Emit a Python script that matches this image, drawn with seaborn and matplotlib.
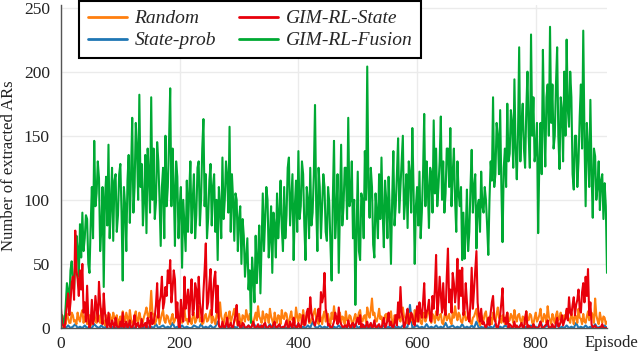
import numpy as np
import pandas as pd
import matplotlib
matplotlib.use("Agg")
import matplotlib.pyplot as plt
import seaborn as sns

# ---------------- data -------------
# GIM-RL-Fusion, Random and GIM-RL-State: one value every 2 episodes
fusion = [2, 10, 5, 3, 18, 35, 29, 20, 45, 52, 38, 30, 50, 72, 62, 40, 81, 55, 90, 60,
          70, 88, 85, 50, 43, 80, 110, 70, 146, 95, 105, 130, 117, 60, 78, 110, 32, 100, 118, 80,
          143, 70, 96, 125, 68, 115, 120, 75, 88, 120, 128, 90, 37, 110, 96, 60, 115, 135, 82, 120,
          164, 90, 110, 160, 140, 100, 182, 110, 128, 80, 100, 135, 74, 140, 120, 90, 180, 100, 140, 85,
          98, 145, 130, 100, 64, 110, 125, 70, 150, 95, 110, 145, 187, 95, 140, 110, 64, 130, 118, 70,
          95, 110, 47, 100, 80, 60, 115, 75, 105, 130, 74, 100, 120, 70, 88, 125, 130, 80, 100, 140,
          163, 95, 120, 70, 86, 115, 128, 80, 110, 120, 75, 100, 53, 110, 95, 70, 133, 85, 100, 130,
          118, 90, 157, 75, 120, 100, 68, 105, 100, 60, 85, 95, 50, 85, 72, 40, 55, 70, 30, 45,
          4, 55, 40, 20, 72, 35, 55, 80, 27, 65, 105, 60, 85, 110, 100, 55, 70, 95, 43, 90,
          80, 55, 105, 70, 90, 115, 78, 60, 110, 70, 88, 125, 133, 80, 100, 120, 53, 95, 115, 75,
          138, 85, 95, 130, 120, 80, 53, 110, 100, 70, 125, 80, 90, 120, 174, 95, 60, 125, 110, 70,
          95, 120, 110, 75, 68, 110, 98, 65, 37, 100, 146, 70, 90, 120, 43, 95, 143, 80, 94, 125,
          125, 85, 164, 95, 100, 130, 70, 100, 18, 75, 122, 60, 53, 105, 100, 70, 138, 100, 204, 110,
          86, 125, 110, 65, 55, 105, 90, 70, 120, 85, 133, 90, 63, 115, 100, 70, 118, 90, 50, 100,
          138, 80, 95, 120, 148, 90, 110, 130, 150, 85, 100, 120, 78, 130, 120, 90, 156, 110, 50, 95,
          110, 80, 122, 70, 90, 120, 167, 95, 130, 110, 78, 125, 120, 90, 162, 105, 140, 95, 110, 130,
          165, 100, 130, 90, 105, 140, 140, 110, 156, 95, 120, 140, 100, 75, 130, 105, 95, 110, 53, 90,
          54, 75, 108, 60, 75, 110, 139, 90, 110, 120, 62, 95, 100, 75, 122, 95, 90, 110, 100, 80,
          57, 100, 130, 115, 180, 110, 120, 160, 150, 120, 170, 110, 67, 125, 140, 110, 175, 130, 136, 170,
          160, 125, 194, 140, 116, 150, 219, 130, 160, 175, 140, 125, 170, 200, 150, 125, 229, 150, 180, 130,
          139, 160, 74, 130, 160, 120, 217, 160, 126, 180, 190, 150, 235, 160, 190, 140, 150, 190, 219, 150,
          124, 180, 170, 130, 200, 150, 225, 170, 157, 200, 180, 120, 108, 150, 150, 110, 130, 165, 190, 140,
          232, 150, 95, 160, 140, 110, 178, 120, 86, 140, 134, 100, 110, 130, 92, 115, 120, 85, 113, 95,
          43]

random_ = [2, 1, 5, 9, 3, 11, 8, 4, 4, 12, 10, 5, 6, 3, 12, 7, 5, 11, 14, 4,
           8, 11, 3, 7, 10, 2, 6, 9, 12, 5, 4, 11, 9, 4, 15, 8, 5, 2, 10, 6,
           3, 11, 7, 4, 12, 8, 6, 10, 2, 6, 9, 3, 13, 8, 5, 12, 8, 4, 14, 7,
           4, 2, 10, 13, 6, 4, 12, 8, 3, 5, 9, 12, 16, 10, 8, 14, 29, 12, 10, 3,
           5, 9, 12, 3, 7, 11, 14, 6, 4, 10, 9, 5, 3, 8, 11, 4, 6, 9, 13, 5,
           8, 12, 4, 9, 15, 6, 7, 3, 10, 7, 3, 9, 12, 4, 6, 11, 17, 5, 8, 3,
           4, 9, 11, 5, 6, 10, 14, 4, 9, 6, 3, 10, 12, 7, 20, 9, 6, 3, 10, 12,
           4, 8, 13, 4, 8, 11, 15, 7, 5, 2, 11, 6, 3, 10, 9, 5, 14, 9, 6, 11,
           10, 3, 4, 8, 12, 6, 17, 9, 7, 4, 13, 8, 5, 11, 10, 4, 15, 9, 6, 2,
           12, 7, 4, 10, 9, 3, 14, 8, 7, 12, 11, 5, 3, 9, 13, 6, 8, 4, 16, 9,
           5, 11, 10, 3, 14, 8, 6, 10, 12, 4, 4, 7, 9, 12, 15, 6, 7, 3, 11, 8,
           3, 10, 13, 5, 8, 11, 5, 3, 12, 7, 17, 9, 6, 4, 10, 12, 4, 9, 8, 3,
           13, 6, 5, 10, 9, 4, 3, 8, 11, 5, 7, 12, 14, 6, 5, 9, 10, 4, 16, 11,
           8, 14, 23, 10, 12, 6, 5, 9, 15, 7, 9, 3, 4, 10, 11, 5, 6, 9, 13, 4,
           3, 10, 8, 5, 12, 7, 5, 10, 16, 9, 8, 4, 4, 11, 11, 6, 7, 3, 14, 8,
           5, 10, 10, 4, 3, 9, 12, 5, 8, 13, 15, 6, 4, 11, 9, 4, 13, 8, 6, 10,
           11, 4, 3, 9, 14, 6, 8, 11, 5, 3, 12, 8, 17, 10, 6, 12, 10, 5, 4, 9,
           13, 6, 7, 10, 11, 4, 3, 8, 9, 12, 15, 6, 5, 2, 10, 7, 6, 11, 13, 5,
           4, 9, 8, 3, 12, 7, 5, 11, 16, 8, 7, 4, 10, 6, 3, 9, 12, 5, 6, 11,
           9, 4, 14, 8, 5, 10, 11, 6, 4, 9, 8, 3, 13, 7, 6, 11, 10, 4, 3, 8,
           12, 5, 7, 10, 15, 6, 5, 11, 9, 4, 17, 9, 6, 3, 11, 7, 4, 10, 13, 6,
           8, 12, 5, 3, 10, 7, 14, 9, 6, 4, 12, 8, 3, 10, 9, 4, 15, 8, 7, 3,
           11, 5, 4, 9, 13, 6, 8, 12, 10, 4, 23, 10, 6, 3, 12, 7, 4, 9, 8, 3,
           5]

state = [15, 3, 2, 0, 8, 18, 27, 10, 20, 35, 40, 22, 76, 45, 38, 25, 45, 30, 50, 12,
         20, 5, 33, 8, 0, 4, 22, 3, 8, 25, 15, 5, 36, 20, 10, 3, 27, 12, 5, 0,
         12, 2, 0, 6, 3, 0, 8, 2, 0, 0, 5, 1, 12, 0, 2, 5, 0, 2, 6, 0,
         0, 3, 10, 0, 3, 4, 0, 0, 7, 1, 2, 4, 0, 8, 5, 0, 12, 3, 4, 9,
         18, 35, 8, 20, 25, 40, 15, 20, 32, 25, 45, 35, 53, 20, 30, 45, 38, 8, 20, 2,
         0, 22, 10, 5, 40, 15, 22, 30, 5, 25, 38, 10, 15, 35, 30, 8, 40, 20, 12, 5,
         28, 45, 66, 15, 20, 35, 46, 10, 25, 38, 44, 12, 33, 2, 0, 0, 5, 1, 0, 3,
         8, 0, 2, 4, 0, 0, 6, 10, 18, 2, 5, 0, 0, 4, 3, 0, 0, 1, 2, 0,
         0, 2, 5, 0, 0, 1, 3, 0, 0, 2, 0, 3, 4, 0, 0, 1, 2, 0, 0, 3,
         5, 0, 0, 2, 3, 0, 0, 1, 0, 3, 6, 0, 0, 5, 2, 0, 8, 2, 0, 0,
         4, 1, 0, 5, 10, 2, 3, 12, 15, 5, 24, 12, 8, 4, 2, 6, 10, 15, 5, 28,
         20, 25, 43, 15, 10, 2, 3, 0, 0, 2, 5, 12, 8, 3, 16, 5, 3, 1, 0, 2,
         2, 0, 6, 2, 0, 3, 4, 0, 2, 5, 8, 3, 10, 0, 3, 1, 0, 2, 5, 0,
         2, 4, 0, 1, 6, 0, 0, 2, 3, 0, 0, 4, 8, 0, 2, 6, 12, 2, 5, 1,
         0, 4, 10, 2, 20, 8, 32, 12, 8, 0, 3, 10, 15, 3, 5, 12, 10, 4, 2, 10,
         17, 5, 20, 12, 8, 20, 35, 8, 12, 15, 22, 6, 5, 25, 15, 30, 57, 10, 20, 40,
         26, 12, 35, 15, 10, 40, 62, 20, 30, 12, 43, 35, 20, 30, 54, 15, 45, 25, 47, 10,
         15, 35, 20, 8, 5, 20, 47, 15, 30, 45, 60, 20, 10, 5, 15, 3, 5, 2, 0, 3,
         8, 2, 12, 20, 25, 8, 5, 0, 0, 4, 10, 20, 31, 5, 8, 3, 12, 0, 3, 2,
         0, 1, 5, 0, 2, 0, 0, 2, 4, 0, 0, 8, 13, 0, 2, 1, 0, 0, 3, 1,
         0, 0, 0, 2, 5, 0, 0, 1, 2, 3, 6, 0, 0, 1, 3, 0, 0, 4, 8, 1,
         2, 5, 10, 2, 5, 8, 15, 6, 24, 12, 10, 18, 24, 10, 18, 22, 30, 15, 12, 28,
         35, 20, 40, 25, 46, 10, 20, 3, 0, 1, 2, 0, 0, 0, 0, 1, 3, 0, 0, 0,
         0]

# State-prob: one value every 4 episodes
state_prob = [0, 1, 0, 2, 0, 1, 3, 0, 1, 0, 2, 0, 1, 0, 3, 1, 0, 2, 0, 1,
              5, 0, 1, 0, 2, 0, 1, 0, 3, 0, 1, 0, 2, 1, 0, 0, 2, 0, 1, 0,
              3, 0, 1, 2, 0, 1, 0, 4, 0, 1, 0, 2, 0, 1, 0, 0, 2, 1, 0, 3,
              0, 1, 0, 2, 0, 1, 5, 0, 1, 0, 2, 0, 0, 1, 0, 3, 0, 1, 0, 2,
              0, 4, 1, 0, 2, 0, 1, 0, 3, 0, 1, 0, 2, 0, 1, 0, 0, 2, 0, 1,
              3, 0, 1, 0, 2, 0, 5, 1, 0, 2, 0, 1, 0, 3, 0, 1, 0, 2, 0, 1,
              0, 2, 0, 1, 3, 0, 1, 0, 2, 0, 1, 0, 4, 0, 1, 0, 2, 0, 1, 0,
              3, 0, 1, 0, 2, 0, 1, 18, 0, 1, 2, 0, 1, 0, 3, 0, 1, 0, 2, 0,
              1, 0, 4, 0, 1, 2, 0, 1, 0, 3, 0, 1, 0, 2, 0, 5, 0, 1, 0, 2,
              0, 1, 0, 3, 0, 1, 0, 2, 1, 0, 0, 2, 0, 1, 3, 0, 1, 0, 2, 0,
              1, 0, 5, 0, 1, 2, 0, 1, 0, 3, 0, 1, 0, 2, 0, 1, 0, 4, 0, 1,
              0, 2, 0, 1, 0, 3, 0, 1, 0, 2, 0]

labels = ["Random", "State-prob", "GIM-RL-State", "GIM-RL-Fusion"]
colors = {"Random": "#ff7f0e", "State-prob": "#1f77b4",
          "GIM-RL-State": "#e8000b", "GIM-RL-Fusion": "#00a933"}

series = {"Random": (random_, 2), "State-prob": (state_prob, 4),
          "GIM-RL-State": (state, 2), "GIM-RL-Fusion": (fusion, 2)}
frames = []
for name, (vals, step) in series.items():
    frames.append(pd.DataFrame({"Episode": np.arange(len(vals)) * step,
                                "Value": vals, "Method": name}))
df = pd.concat(frames, ignore_index=True)

# ---------------- styling -------------
sns.set_theme(style="whitegrid")
plt.rcParams["font.family"] = ["Liberation Serif", "DejaVu Serif"]

fig = plt.figure(figsize=(6.4, 3.53), dpi=100)
ax = fig.add_axes([61 / 640, 25 / 353, 546 / 640, 323 / 353])

draw_order = ["State-prob", "Random", "GIM-RL-Fusion", "GIM-RL-State"]
for name in draw_order:
    sub = df[df["Method"] == name]
    sns.lineplot(data=sub, x="Episode", y="Value", ax=ax, color=colors[name],
                 linewidth=1.5, estimator=None, sort=False, legend=False)

ax.set_xlim(0, 920)
ax.set_ylim(0, 252)
ax.set_xticks([0, 200, 400, 600, 800])
ax.set_yticks([0, 50, 100, 150, 200, 250])
ax.grid(True, color="#ebebeb", linewidth=1.0)
ax.set_axisbelow(True)
for s in ["top", "right"]:
    ax.spines[s].set_visible(False)
for s in ["left", "bottom"]:
    ax.spines[s].set_color("#555555")
    ax.spines[s].set_linewidth(1.0)
ax.tick_params(axis="both", length=0, labelsize=12.5, colors="#222222")
ax.tick_params(axis="y", pad=8)
ax.tick_params(axis="x", pad=6)
ax.set_xlabel("")
ax.set_ylabel("")
fig.text(9 / 640, 1 - 166 / 353, "Number of extracted ARs", fontsize=12,
         color="#222222", rotation=90, ha="center", va="center")
fig.text(611 / 640, 1 - 343 / 353, "Episode", fontsize=12, color="#222222",
         ha="center", va="center")

handles = [plt.Line2D([], [], color=colors[n], linewidth=2.0) for n in labels]
leg = ax.legend(handles, labels, loc="upper left", bbox_to_anchor=(0.033, 1.012),
                borderaxespad=0, ncol=2, fancybox=False, framealpha=1,
                edgecolor="black", prop={"style": "italic", "size": 14},
                handlelength=2.0, handletextpad=0.4, columnspacing=1.2,
                labelspacing=0.22, borderpad=0.45)
leg.get_frame().set_linewidth(1.5)

fig.savefig("out.png", dpi=100)
